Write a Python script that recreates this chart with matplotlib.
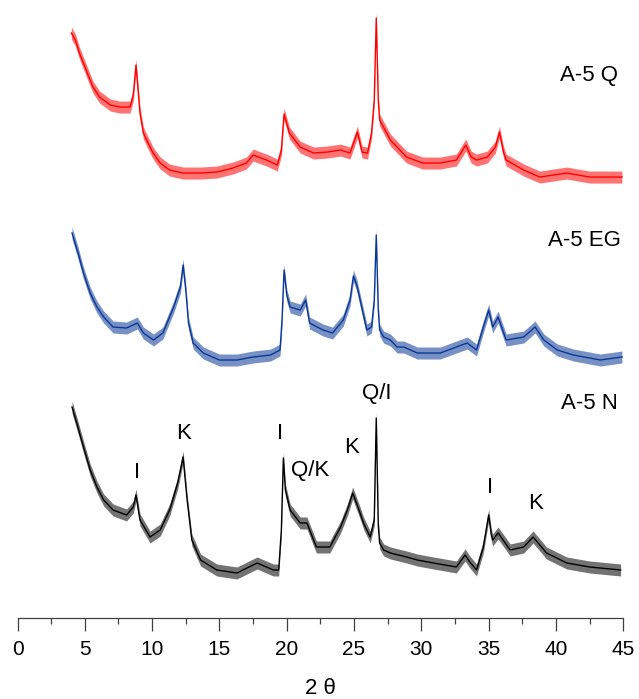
import matplotlib.pyplot as plt
import numpy as np

plt.rcParams['font.family'] = ['Liberation Sans', 'DejaVu Sans']

# diffraction angle (2 theta, degrees) and intensity (arb. units) for each sample
two_theta_q = [4.0, 4.3, 4.6, 5.1, 5.6, 6.1, 6.9, 7.6, 8.36, 8.6, 8.8, 9.1, 9.35,
               9.7, 10.07, 10.6, 11.3, 12.3, 13.56, 14.8, 16.0, 17.0, 17.5, 18.5,
               19.3, 19.6, 19.8, 20.2, 21.0, 22.0, 23.0, 24.0, 24.7, 25.25, 25.6,
               26.0, 26.3, 26.5, 26.65, 26.8, 26.9, 27.7, 28.9, 30.1, 31.4, 32.6,
               33.3, 33.7, 34.1, 34.9, 35.5, 35.8, 36.1, 36.3, 37.6, 38.8, 40.8,
               42.5, 44.9]
counts_q = [165, 158, 145, 128, 111, 101, 93, 91, 91, 103, 133, 85, 65,
            55, 45, 35, 28, 25, 25, 26, 30, 35, 43, 38,
            33, 48, 84, 65, 51, 45, 46, 48, 45, 66, 46,
            45, 65, 98, 180, 98, 78, 58, 41, 35, 35, 38,
            53, 41, 38, 41, 51, 66, 46, 38, 28, 21, 25,
            21, 21]

two_theta_eg = [4.05, 4.5, 4.9, 5.4, 5.9, 6.4, 7.1, 8.1, 8.9, 9.35, 10.1, 10.8,
                11.6, 12.1, 12.3, 12.5, 12.7, 13.05, 13.8, 15.0, 16.3, 17.5, 18.8,
                19.5, 19.65, 19.8, 20.0, 20.25, 21.0, 21.4, 21.7, 22.7, 23.4, 24.2,
                24.7, 24.95, 25.2, 25.45, 25.95, 26.3, 26.5, 26.65, 26.8, 26.9,
                27.2, 27.7, 28.2, 28.7, 29.7, 31.4, 33.4, 34.1, 34.6, 35.0, 35.3,
                35.7, 36.3, 37.6, 38.45, 39.1, 40.1, 41.3, 43.3, 44.9]
counts_eg = [175, 155, 135, 115, 101, 91, 81, 80, 85, 75, 68, 75,
             101, 121, 143, 118, 85, 65, 55, 48, 48, 51, 53,
             58, 88, 138, 113, 101, 98, 108, 85, 78, 75, 88,
             108, 132, 123, 108, 78, 81, 108, 173, 98, 78,
             71, 68, 61, 61, 55, 55, 65, 58, 81, 98, 81,
             91, 68, 71, 81, 68, 58, 53, 48, 51]

two_theta_n = [4.05, 4.4, 4.9, 5.4, 5.9, 6.4, 7.1, 8.1, 8.6, 8.8, 9.1, 9.85,
               10.6, 11.3, 11.9, 12.3, 12.6, 12.95, 13.6, 14.8, 16.3, 17.8, 19.0,
               19.4, 19.6, 19.75, 19.9, 20.25, 21.0, 21.5, 22.2, 23.2, 24.0, 24.5,
               24.9, 25.45, 25.7, 26.2, 26.5, 26.65, 26.8, 26.9, 27.2, 27.7, 28.9,
               29.7, 30.9, 32.6, 33.25, 33.6, 34.1, 34.6, 35.0, 35.2, 35.3, 35.7,
               36.6, 37.6, 38.3, 39.3, 40.8, 42.5, 44.8]
counts_n = [211, 195, 171, 148, 131, 118, 108, 103, 111, 123, 98, 81,
            88, 108, 135, 161, 118, 78, 58, 48, 45, 55, 48,
            48, 88, 160, 128, 108, 95, 95, 71, 71, 91, 108,
            125, 105, 95, 81, 98, 200, 93, 75, 68, 65, 61,
            58, 55, 51, 63, 56, 48, 71, 103, 83, 78, 85,
            68, 71, 81, 65, 55, 51, 48]

# vertical shifts used to stack the patterns
offset_q = 420
offset_eg = 210
offset_n = 0

sample_names = ['A-5 Q', 'A-5 EG', 'A-5 N']

# phase labels on the A-5 N pattern: I = illite, K = kaolinite, Q = quartz
phase_labels = ['I', 'K', 'I', 'Q/K', 'K', 'Q/I', 'I', 'K']
phase_pos = [8.9, 12.3, 19.5, 21.7, 24.85, 26.7, 35.1, 38.45]
phase_height = [146, 185, 185, 148, 171, 225, 131, 115]

fig = plt.figure(figsize=(6.39, 6.99), dpi=100)
ax = fig.add_axes([0.0274, 0.1159, 0.948, 0.884])

noise = 6
for x, y, off, color in [(two_theta_q, counts_q, offset_q, '#ff0000'),
                         (two_theta_eg, counts_eg, offset_eg, '#0a3796'),
                         (two_theta_n, counts_n, offset_n, '#000000')]:
    y = np.array(y) + off
    ax.fill_between(x, y - noise, y + noise, color=color, alpha=0.55, lw=0)
    ax.plot(x, y, color=color, lw=1.0)

# sample names at the right-hand end of each pattern
ax.text(44.6, 618 - 75, sample_names[0], ha='right', va='center', fontsize=16)
ax.text(44.8, 618 - 240, sample_names[1], ha='right', va='center', fontsize=16)
ax.text(44.6, 618 - 403, sample_names[2], ha='right', va='center', fontsize=16)

for lab, px, ph in zip(phase_labels, phase_pos, phase_height):
    ax.text(px, ph, lab, ha='center', va='center', fontsize=16)

ax.set_xlim(0, 45)
ax.set_ylim(0, 618)
ax.set_xticks(np.arange(0, 46, 5))
ax.set_xticks(np.arange(2.5, 45, 5), minor=True)
ax.tick_params(axis='x', which='major', direction='out', length=9.5, width=0.9,
               color='#404040', labelsize=15, pad=6)
ax.tick_params(axis='x', which='minor', direction='out', length=4.5, width=0.9,
               color='#404040')
ax.set_yticks([])
for side in ['top', 'left', 'right']:
    ax.spines[side].set_visible(False)
ax.spines['bottom'].set_color('#404040')
ax.spines['bottom'].set_linewidth(0.9)
ax.set_xlabel('2 θ', fontsize=16, labelpad=14)

fig.savefig('out.png', dpi=100)
